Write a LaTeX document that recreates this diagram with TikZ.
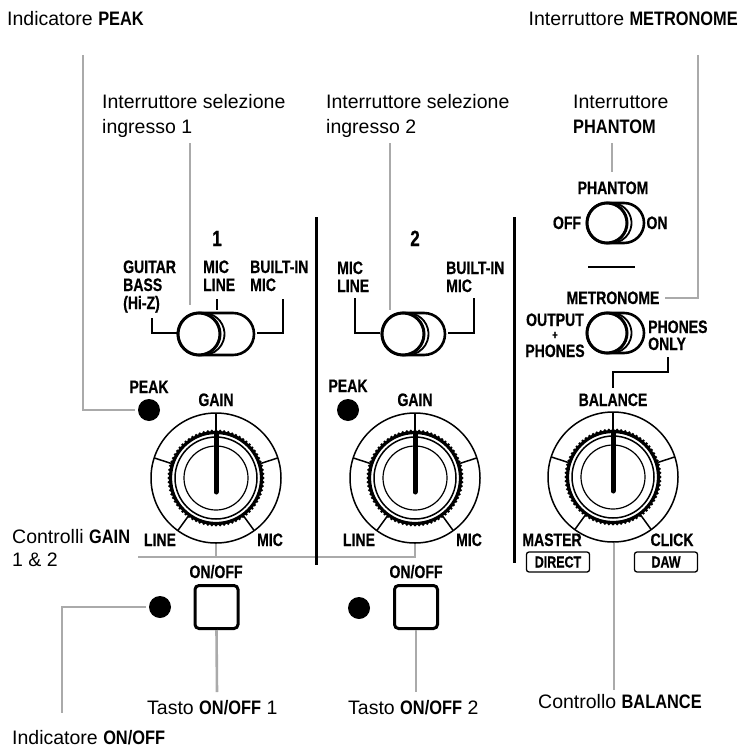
\documentclass[tikz,border=0pt]{standalone}
\usepackage{fontspec}
\setmainfont{Liberation Sans}
\newfontfamily\panelfont{Liberation Sans}[FakeStretch=0.78, BoldFeatures={FakeBold=0.6}]
\newfontfamily\annbfont{Liberation Sans}[FakeStretch=0.84]
\newcommand{\annb}[1]{{\annbfont\bfseries #1}}
\definecolor{leadgray}{RGB}{170,170,170}
\begin{document}
\begin{tikzpicture}[x=1pt,y=-1pt,
  ann/.style={inner sep=0pt, anchor=base west, font=\fontsize{19.5}{22}\selectfont},
  pl/.style={inner sep=0pt, anchor=base, font=\panelfont\bfseries\fontsize{18}{19}\selectfont},
  plw/.style={pl, anchor=base west},
  lead/.style={draw=leadgray, line width=2.6pt},
  brk/.style={line width=1.6pt},
  divider/.style={line width=3pt},
  swbody/.style={line width=2.6pt},
  swknob/.style={line width=3pt, fill=white},
  led/.style={circle, fill=black, minimum size=22pt, inner sep=0pt},
  btn/.style={draw, line width=3pt, rounded corners=4pt, minimum size=43pt, inner sep=0pt},
  tag/.style={draw, line width=1.3pt, rounded corners=2.5pt, minimum width=63pt, minimum height=20pt, inner sep=0pt, font=\panelfont\bfseries\fontsize{16}{17}\selectfont},
  knob/.pic={
    \draw[line width=1.5pt] (0,0) circle (65);
    \foreach \a in {54,126,198,270,342} \draw[line width=1.5pt] (\a:46) -- (\a:65);
    \fill[white] (0,0) circle (47);
    \foreach \a in {0,5,...,355} \fill (\a:47.2) circle (1.5);
    \draw[line width=3.2pt] (0,0) circle (45.5);
    \draw[line width=1.5pt] (0,0) circle (41);
    \draw[line width=1.2pt] (0,0) circle (32);
    \draw[line width=5pt, line cap=round] (0,-45) -- (0,14);
  }
]
\useasboundingbox (0,0) rectangle (743,749);

% ---------- annotations ----------
\node[ann] (pkann) at (7,26) {Indicatore \annb{PEAK}};
\node[ann, anchor=base east] (metann) at (738,26) {Interruttore \annb{METRONOME}};
\node[ann] (sel1a) at (102,109) {Interruttore selezione};
\node[ann] (sel1b) at (102,133) {ingresso 1};
\node[ann] (sel2a) at (326,109) {Interruttore selezione};
\node[ann] (sel2b) at (326,133) {ingresso 2};
\node[ann] (phana) at (573,109) {Interruttore};
\node[ann] (phanb) at (573,133) {\annb{PHANTOM}};
\node[ann] (gaina) at (12,543) {Controlli \annb{GAIN}};
\node[ann] (gainb) at (12,566) {1 \& 2};
\node[ann] (tasto1) at (147,714) {Tasto \annb{ON/OFF} 1};
\node[ann] (tasto2) at (348,714) {Tasto \annb{ON/OFF} 2};
\node[ann] (balann) at (538,708) {Controllo \annb{BALANCE}};
\node[ann] (ledann) at (12,744) {Indicatore \annb{ON/OFF}};

% ---------- leader coordinates ----------
\coordinate (pkTop) at (83,55);
\coordinate (metTop) at (698,55);
\coordinate (s1Top) at (190,143);
\coordinate (s1Bot) at (190,305);
\coordinate (s2Top) at (390,143);
\coordinate (s2Bot) at (390,310);
\coordinate (phTop) at (612,143);
\coordinate (phBot) at (612,172);
\coordinate (gL) at (138,557);
\coordinate (ledBend) at (62,713);
\coordinate (t1End) at (217,692);
\coordinate (t2End) at (416,692);
\coordinate (balEnd) at (614,690);

% ---------- panel labels ----------
\node[pl] (n1) at (217,246) {\fontsize{22}{22}\selectfont 1};
\node[pl] (n2) at (415,246) {\fontsize{22}{22}\selectfont 2};

\node[plw] (gt) at (123,273) {GUITAR};
\node[plw] (bs) at (123,291) {BASS};
\node[plw] (hz) at (123,309) {(Hi-Z)};
\node[plw] (ml1a) at (203,273) {MIC};
\node[plw] (ml1b) at (203,291) {LINE};
\node[plw] (bi1a) at (250,273) {BUILT-IN};
\node[plw] (bi1b) at (250,291) {MIC};

\node[plw] (ml2a) at (337,274) {MIC};
\node[plw] (ml2b) at (337,292) {LINE};
\node[plw] (bi2a) at (446,274) {BUILT-IN};
\node[plw] (bi2b) at (446,292) {MIC};

\node[pl] (phlbl) at (613,194) {PHANTOM};
\node[pl] (offlbl) at (567,229) {OFF};
\node[pl] (onlbl) at (657,229) {ON};
\node[pl] (metlbl) at (613,304) {METRONOME};
\node[pl] (outlbl) at (555,326) {OUTPUT};
\node[pl] (pluslbl) at (555,339) {\fontsize{12}{12}\selectfont +};
\node[pl] (phoneslbl) at (555,357) {PHONES};
\node[plw] (ph2lbl) at (648,333) {PHONES};
\node[plw] (onlylbl) at (648,350) {ONLY};

\node[pl] (peak1lbl) at (149,393) {PEAK};
\node[pl] (peak2lbl) at (348,392) {PEAK};
\node[pl] (gain1lbl) at (216,406) {GAIN};
\node[pl] (gain2lbl) at (415,406) {GAIN};
\node[pl] (ballbl) at (613,406) {BALANCE};
\node[pl] (line1) at (160,546) {LINE};
\node[pl] (mic1) at (270,546) {MIC};
\node[pl] (line2) at (359,546) {LINE};
\node[pl] (mic2) at (469,546) {MIC};
\node[pl] (master) at (552,546) {MASTER};
\node[pl] (click) at (672,546) {CLICK};
\node[tag] (direct) at (558,562) {DIRECT};
\node[tag] (daw) at (666,562) {DAW};
\node[pl] (oo1) at (216,578) {ON/OFF};
\node[pl] (oo2) at (416,578) {ON/OFF};

% ---------- LEDs and buttons ----------
\node[led] (pk1) at (149,410) {};
\node[led] (pk2) at (348,410) {};
\node[led] (led1) at (160,607) {};
\node[led] (led2) at (359,608) {};
\node[btn] (btn1) at (216.5,607) {};
\node[btn] (btn2) at (416,607) {};

% ---------- gray leaders ----------
\draw[lead] (pkTop) |- ([xshift=-3pt]pk1.west);
\draw[lead] (metTop) |- ([xshift=5pt]metlbl.east);
\draw[lead] (s1Top) -- (s1Bot);
\draw[lead] (s2Top) -- (s2Bot);
\draw[lead] (phTop) -- (phBot);
\draw[lead] (gL) -- (415,557) -- (415,543);
\draw[lead] (216,557) -- (216,543);
\draw[lead] ([xshift=-3pt]led1.west) -| (ledBend);
\draw[lead] (btn1.south) -- (t1End);
\draw[lead] (btn2.south) -- (t2End);
\draw[lead] (614,543) -- (balEnd);

% ---------- dividers ----------
\draw[divider] (316,217) -- (316,565);
\draw[divider] (514,217) -- (514,563);

% ---------- knobs ----------
\pic (k1) at (216,478) {knob};
\pic (k2) at (415,478) {knob};
\pic (k3) at (613,477) {knob};

% ---------- switches ----------
% input 1
\draw[swbody, rounded corners=21pt] (178,313) rectangle (254,355);
\draw[swknob] (199,334) circle (21);
\draw[line width=1.8pt] (203.5,334) ++(-72:21) arc[start angle=-72, end angle=72, radius=21];
% input 2
\draw[swbody, rounded corners=21pt] (382,313) rectangle (445,355);
\draw[swknob] (403,334) circle (21);
\draw[line width=1.8pt] (407.5,334) ++(-72:21) arc[start angle=-72, end angle=72, radius=21];
% phantom
\draw[swbody, rounded corners=20pt] (587,203) rectangle (644,243);
\draw[swknob] (607,223) circle (20);
\draw[line width=1.8pt] (611.5,223) ++(-72:20) arc[start angle=-72, end angle=72, radius=20];
\draw[line width=1.5pt] (588,267) -- (635,267);
% metronome
\draw[swbody, rounded corners=20pt] (587,313) rectangle (644,353);
\draw[swknob] (607,333) circle (20);
\draw[line width=1.8pt] (611.5,333) ++(-72:20) arc[start angle=-72, end angle=72, radius=20];

% ---------- black brackets ----------
\draw[brk] (152,318) |- (177,333);
\draw[brk] (217,299) -- (217,310);
\draw[brk] (283,299) |- (257,333);
\draw[brk] (355,298) |- (380,333);
\draw[brk] (474,298) |- (448,333);
\draw[brk] (668,357) -- (668,372) -- (613,372) -- (613,388);
\end{tikzpicture}
\end{document}
